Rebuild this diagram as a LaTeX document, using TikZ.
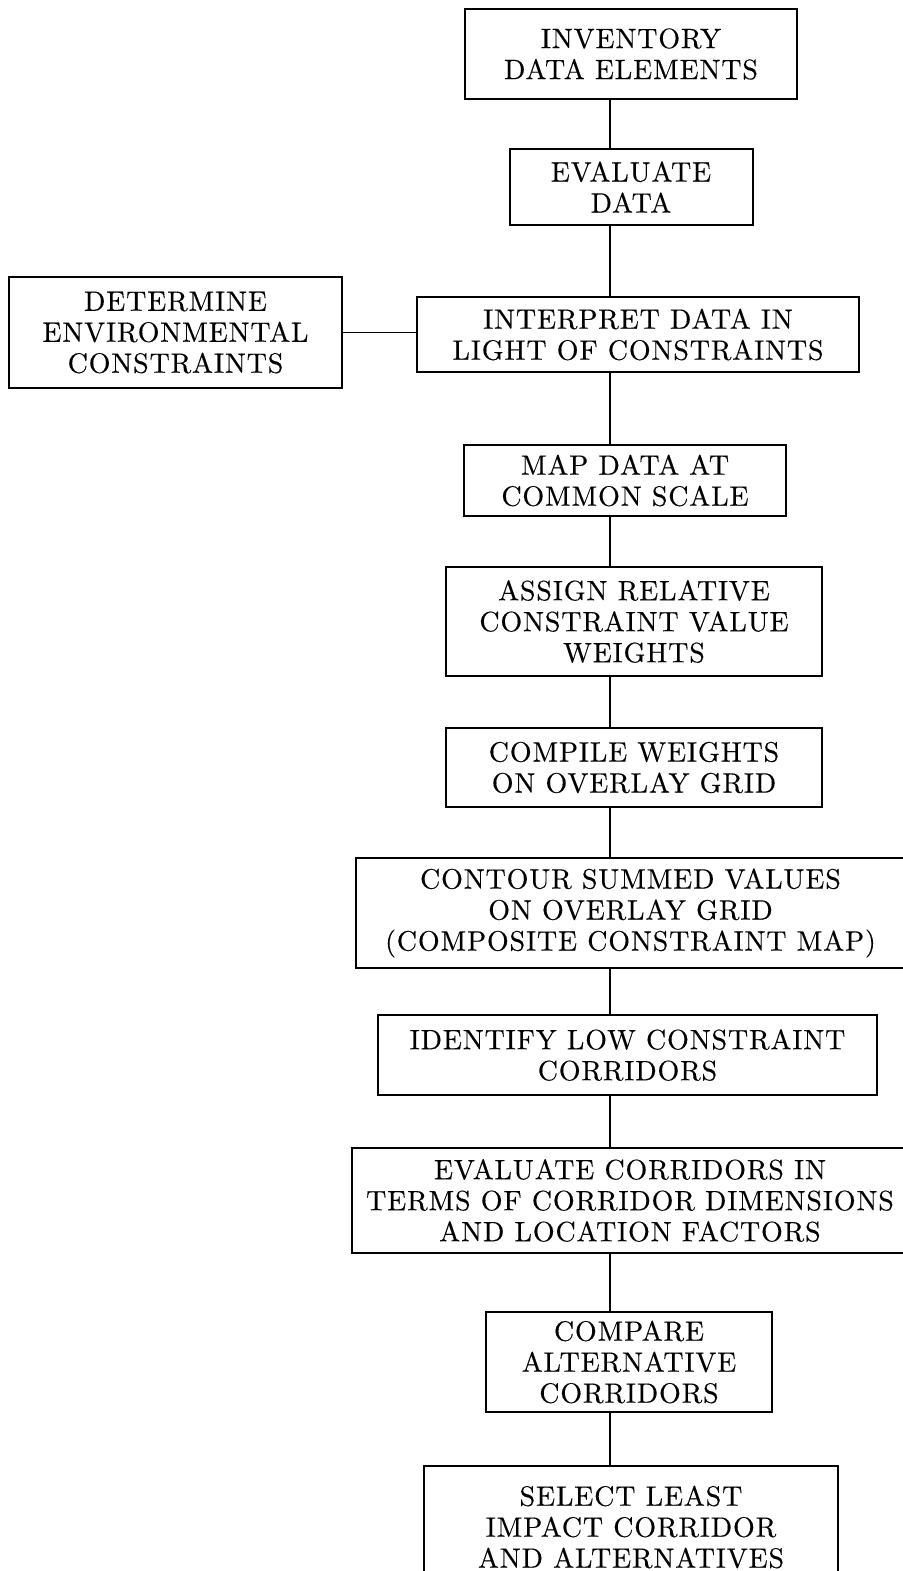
\documentclass[tikz,border=0pt]{standalone}
\usepackage{fontspec}
\usepackage{tikz}
\usetikzlibrary{positioning}
\newfontfamily\stepfont{lmroman10-regular.otf}[LetterSpace=3,FakeBold=0.3]

\begin{document}
\begin{tikzpicture}[x=0.5pt,y=-0.5pt,on grid,
    stepbox/.style={draw,line width=1pt,align=center,inner sep=0pt,
      font=\stepfont\fontsize{14}{15.5}\selectfont},
    link/.style={line width=0.75pt}]
    \useasboundingbox (0,0) rectangle (903,1571);
    \coordinate (spine) at (610,0);
    \node[stepbox,minimum width=166pt,minimum height=45pt] (s_1) at (631,54) {INVENTORY\\DATA ELEMENTS};
    \node[stepbox,minimum width=121.5pt,minimum height=38pt] (s_2) [below=66.5pt of s_1] {EVALUATE\\DATA};
    \node[stepbox,minimum width=221pt,minimum height=37.5pt] (s_3) [below=73.75pt of s_2,xshift=3.5pt] {INTERPRET DATA IN\\LIGHT OF CONSTRAINTS};
    \node[stepbox,minimum width=166.5pt,minimum height=55.5pt] (env) [left=231.25pt of s_3,yshift=1pt] {DETERMINE\\ENVIRONMENTAL\\CONSTRAINTS};
    \node[stepbox,minimum width=161pt,minimum height=35.5pt] (s_4) [below=73pt of s_3,xshift=-6.5pt] {MAP DATA AT\\COMMON SCALE};
    \node[stepbox,minimum width=188pt,minimum height=54.5pt] (s_5) [below=70.5pt of s_4,xshift=4.5pt] {ASSIGN RELATIVE\\CONSTRAINT VALUE\\WEIGHTS};
    \node[stepbox,minimum width=188pt,minimum height=39.5pt] (s_6) [below=73pt of s_5] {COMPILE WEIGHTS\\ON OVERLAY GRID};
    \node[stepbox,minimum width=274.5pt,minimum height=55pt] (s_7) [below=72.75pt of s_6,xshift=-1.75pt] {CONTOUR SUMMED VALUES\\ON OVERLAY GRID\\(COMPOSITE CONSTRAINT MAP)};
    \node[stepbox,minimum width=249.5pt,minimum height=40pt] (s_8) [below=71pt of s_7,xshift=-1.5pt] {IDENTIFY LOW CONSTRAINT\\CORRIDORS};
    \node[stepbox,minimum width=278pt,minimum height=52.5pt] (s_9) [below=72.75pt of s_8,xshift=1.25pt] {EVALUATE CORRIDORS IN\\TERMS OF CORRIDOR DIMENSIONS\\AND LOCATION FACTORS};
    \node[stepbox,minimum width=143pt,minimum height=50pt] (s_10) [below=80.75pt of s_9,xshift=-0.5pt] {COMPARE\\ALTERNATIVE\\CORRIDORS};
    \node[stepbox,minimum width=207pt,minimum height=61pt] (s_11) [below=82.5pt of s_10,xshift=1pt] {SELECT LEAST\\IMPACT CORRIDOR\\AND ALTERNATIVES};
    % main column, one straight run
    \path[link]
    (s_1.south -| spine) edge (s_2.north -| spine)
    (s_2.south -| spine) edge (s_3.north -| spine)
    (s_3.south -| spine) edge (s_4.north -| spine)
    (s_4.south -| spine) edge (s_5.north -| spine)
    (s_5.south -| spine) edge (s_6.north -| spine)
    (s_6.south -| spine) edge (s_7.north -| spine)
    (s_7.south -| spine) edge (s_8.north -| spine)
    (s_8.south -| spine) edge (s_9.north -| spine)
    (s_9.south -| spine) edge (s_10.north -| spine)
    (s_10.south -| spine) edge (s_11.north -| spine)
    (env.east) edge (env.east -| s_3.west);
\end{tikzpicture}
\end{document}
